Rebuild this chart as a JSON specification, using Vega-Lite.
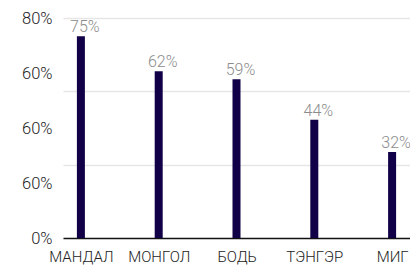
{
  "$schema": "https://vega.github.io/schema/vega-lite/v6.json",
  "width": 347,
  "height": 220,
  "autosize": "none",
  "padding": {"left": 63, "top": 18, "right": 0, "bottom": 36},
  "background": "white",
  "config": {"view": {"stroke": null}, "font": "Roboto"},
  "data": {"values": [
    {"name": "МАНДАЛ", "value": 75, "label": "75%"},
    {"name": "МОНГОЛ", "value": 62, "label": "62%"},
    {"name": "БОДЬ", "value": 59, "label": "59%"},
    {"name": "ТЭНГЭР", "value": 44, "label": "44%"},
    {"name": "МИГ", "value": 32, "label": "32%"}
  ]},
  "encoding": {
    "x": {"field": "name", "type": "nominal", "sort": null,
      "scale": {"type": "point", "padding": 0.23},
      "axis": {"title": null, "labelAngle": 0, "labelFontSize": 15, "labelColor": "#222", "labelPadding": 11, "ticks": false, "domainColor": "#111", "domainWidth": 1.5, "labelFont": "Roboto", "labelFontWeight": 300}}
  },
  "resolve": {"axis": {"y": "independent"}},
  "layer": [
    {
      "mark": {"type": "bar", "width": 8, "color": "#110047"},
      "encoding": {
        "y": {"field": "value", "type": "quantitative",
          "scale": {"domain": [0, 81.8], "nice": false},
          "axis": {"title": null, "values": [27.27, 54.53, 81.8], "labels": false, "ticks": false, "domain": false, "grid": true, "gridColor": "#e6e6e6", "gridWidth": 1.5}}
      }
    },
    {
      "mark": {"type": "text", "fontSize": 16, "color": "#8c8c8c", "dx": 4, "dy": -4, "baseline": "alphabetic", "font": "Roboto", "fontWeight": 300},
      "encoding": {
        "y": {"field": "value", "type": "quantitative",
          "scale": {"domain": [0, 81.8], "nice": false},
          "axis": {"orient": "left", "title": null, "values": [0, 20.45, 40.9, 61.35, 81.8], "grid": false, "ticks": false, "domain": false, "labelFontSize": 16.5, "labelColor": "#222", "labelPadding": 11, "labelFont": "Roboto", "labelFontWeight": 300,
            "labelExpr": "datum.value == 0 ? '0%' : (datum.value > 80 ? '80%' : '60%')"}},
        "text": {"field": "label"}
      }
    }
  ]
}
